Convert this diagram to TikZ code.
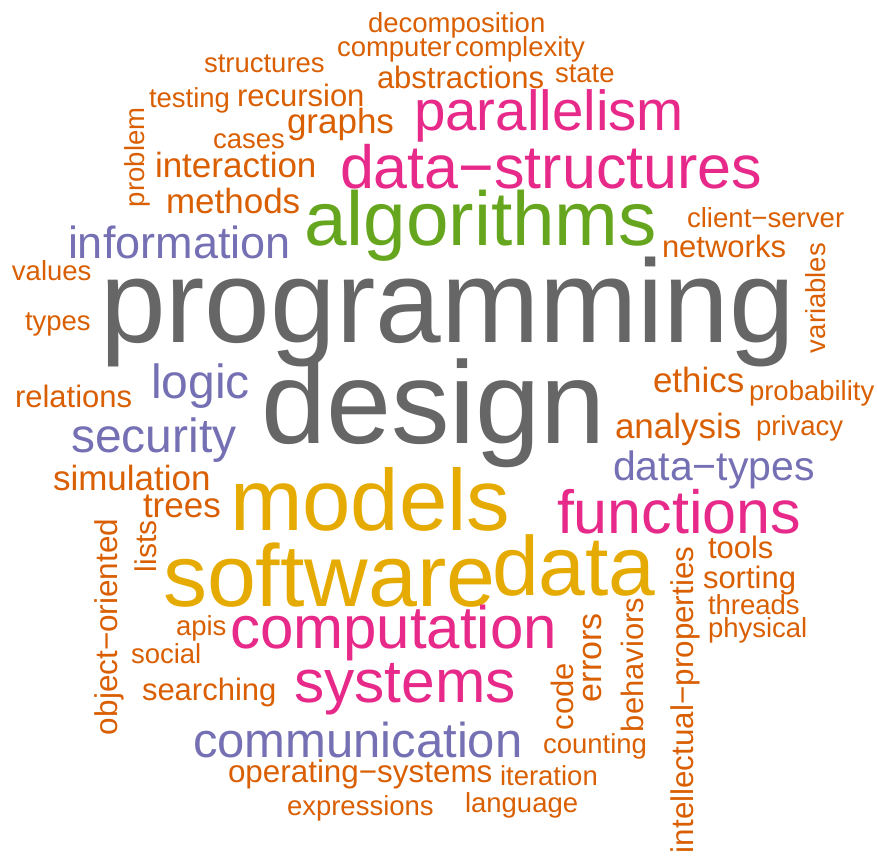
\documentclass[tikz,border=0pt]{standalone}
\usepackage{fontspec}
\setmainfont{Liberation Sans}
\definecolor{cor}{HTML}{D95F02}
\definecolor{cmg}{HTML}{E7298A}
\definecolor{cgr}{HTML}{66A61E}
\definecolor{cpu}{HTML}{7570B3}
\definecolor{cgo}{HTML}{E6AB02}
\definecolor{cgy}{HTML}{666666}
\begin{document}
\begin{tikzpicture}[x=1pt,y=-1pt,
  wd/.style={anchor=base west, inner sep=0pt, outer sep=0pt, font=\fontsize{#1}{#1}\selectfont},
  vw/.style={wd=#1, rotate=90}]
\useasboundingbox (0,0) rectangle (877,855);
% top
\node[wd=27.5, text=cor] (decomposition) at (368,32) {decomposition};
\node[wd=27.5, text=cor] (computer) at (337,56) {computer};
\node[wd=27.5, text=cor] (complexity) at (455,56) {complexity};
\node[wd=27.5, text=cor] (structures) at (204,72) {structures};
\node[wd=31, text=cor] (abstractions) at (377,88) {abstractions};
\node[wd=27.5, text=cor] (state) at (555,82) {state};
\node[wd=27.5, text=cor] (testing) at (149,107) {testing};
\node[wd=31, text=cor] (recursion) at (237,106) {recursion};
\node[wd=56.5, text=cmg] (parallelism) at (414,130) {parallelism};
\node[wd=35, text=cor] (graphs) at (287,133) {graphs};
\node[wd=27.5, text=cor] (cases) at (213,148) {cases};
\node[vw=27.5, text=cor] (problem) at (144,207) {problem};
\node[wd=61, text=cmg] (datastructures) at (340,188) {data−structures};
\node[wd=35, text=cor] (interaction) at (155,177) {interaction};
\node[wd=35, text=cor] (methods) at (166,213) {methods};
\node[wd=76.5, text=cgr] (algorithms) at (304,245) {algorithms};
\node[wd=27.6, text=cor] (clientserver) at (687,227) {client−server};
\node[wd=31, text=cor] (networks) at (662,257) {networks};
\node[wd=45, text=cpu] (information) at (68,258) {information};
\node[wd=27.5, text=cor] (values) at (12,280) {values};
\node[vw=27.5, text=cor] (variables) at (825,353) {variables};
% middle
\node[wd=118, text=cgy] (programming) at (100,342) {programming};
\node[wd=27.5, text=cor] (types) at (25,330) {types};
\node[wd=48, text=cpu] (logic) at (151,398) {logic};
\node[wd=31, text=cor] (relations) at (15,407) {relations};
\node[wd=35, text=cor] (ethics) at (653,392) {ethics};
\node[wd=27.5, text=cor] (probability) at (749,400) {probability};
\node[wd=117, text=cgy] (design) at (261,443) {design};
\node[wd=48, text=cpu] (security) at (71,452) {security};
\node[wd=35, text=cor] (analysis) at (615,438) {analysis};
\node[wd=27.5, text=cor] (privacy) at (756,435) {privacy};
\node[wd=41, text=cpu] (datatypes) at (613,480) {data−types};
\node[wd=35, text=cor] (simulation) at (53,490) {simulation};
\node[wd=35, text=cor] (trees) at (143,517) {trees};
\node[wd=87, text=cgo] (models) at (230,530) {models};
\node[wd=61, text=cmg] (functions) at (557,533) {functions};
% bottom
\node[vw=31.5, text=cor] (objectoriented) at (117,735) {object−oriented};
\node[vw=30, text=cor] (lists) at (156,572) {lists};
\node[wd=88, text=cgo] (software) at (163,606) {software};
\node[wd=84, text=cgo] (data) at (492,595) {data};
\node[wd=31, text=cor] (tools) at (708,558) {tools};
\node[wd=31, text=cor] (sorting) at (703,588) {sorting};
\node[wd=27.5, text=cor] (threads) at (708,614) {threads};
\node[wd=27.5, text=cor] (physical) at (708,637) {physical};
\node[vw=31.4, text=cor] (intellectual) at (693,853) {intellectual−properties};
\node[vw=31, text=cor] (behaviors) at (643,732) {behaviors};
\node[vw=34, text=cor] (errors) at (601,702) {errors};
\node[vw=31, text=cor] (code) at (573,730) {code};
\node[wd=27.5, text=cor] (apis) at (176,635) {apis};
\node[wd=60, text=cmg] (computation) at (230,648) {computation};
\node[wd=27.5, text=cor] (social) at (131,663) {social};
\node[wd=31, text=cor] (searching) at (142,700) {searching};
\node[wd=60.5, text=cmg] (systems) at (294,702) {systems};
\node[wd=49, text=cpu] (communication) at (193,757) {communication};
\node[wd=27.5, text=cor] (counting) at (543,753) {counting};
\node[wd=31.4, text=cor] (operatingsystems) at (228,782) {operating−systems};
\node[wd=27.5, text=cor] (iteration) at (500,785) {iteration};
\node[wd=27.5, text=cor] (expressions) at (287,815) {expressions};
\node[wd=27.5, text=cor] (language) at (465,812) {language};
\end{tikzpicture}
\end{document}
